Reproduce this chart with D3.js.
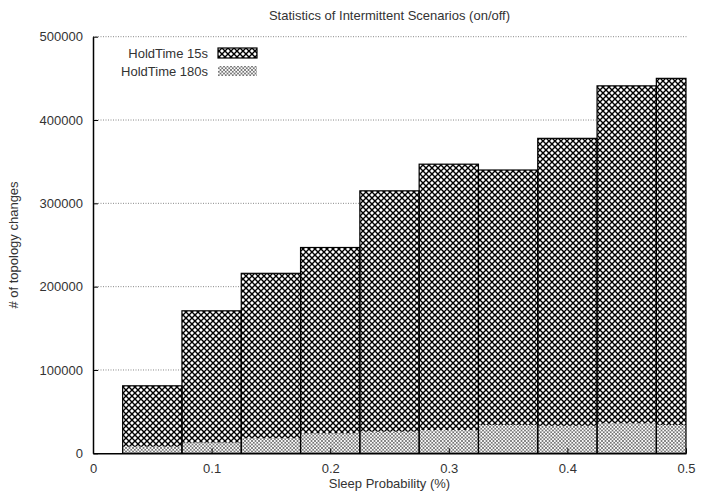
<!DOCTYPE html>
<html>
<head>
<meta charset="utf-8">
<script src="https://cdn.jsdelivr.net/npm/d3@7"></script>
<style>
  body { margin: 0; background: #fff; }
  text { font-family: "Liberation Sans", Arial, sans-serif; fill: #333; }
</style>
</head>
<body>
<div id="chart"></div>
<script>
(() => {
  // sleep probability of each bar (bar centres)
  const probs = [0.05, 0.1, 0.15, 0.2, 0.25, 0.3, 0.35, 0.4, 0.45, 0.5];
  const hold15 = [81000, 171000, 216000, 247000, 315000, 347000, 340000, 378000, 441000, 450000];
  const hold180 = [8000, 13000, 18000, 24000, 26000, 28000, 34000, 33000, 36000, 34000];
  const yTicks = [0, 100000, 200000, 300000, 400000, 500000];
  const xTicks = [0, 0.1, 0.2, 0.3, 0.4, 0.5];
  const seriesNames = ["HoldTime 15s", "HoldTime 180s"];

  const width = 701, height = 492;
  const left = 93, right = 686, top = 36.7, bottom = 453.3;
  const barW = 0.05;

  const svg = d3.select("#chart").append("svg")
    .attr("width", width)
    .attr("height", height);

  const defs = svg.append("defs");

  // coarse crosshatch for 15s
  const p1 = defs.append("pattern")
    .attr("id", "hatch15")
    .attr("patternUnits", "userSpaceOnUse")
    .attr("width", 6).attr("height", 6);
  p1.append("rect").attr("width", 6).attr("height", 6).attr("fill", "#fff");
  p1.append("path")
    .attr("d", "M-1,-1L7,7M7,-1L-1,7")
    .attr("stroke", "#000")
    .attr("stroke-width", 1.4);

  // fine crosshatch for 180s
  const p2 = defs.append("pattern")
    .attr("id", "hatch180")
    .attr("patternUnits", "userSpaceOnUse")
    .attr("width", 3.5).attr("height", 3.5);
  p2.append("rect").attr("width", 3.5).attr("height", 3.5).attr("fill", "#fff");
  p2.append("path")
    .attr("d", "M-1,-1L4.5,4.5M4.5,-1L-1,4.5")
    .attr("stroke", "#333")
    .attr("stroke-width", 0.6);

  const x = d3.scaleLinear().domain([0, 0.5]).range([left, right]);
  const y = d3.scaleLinear().domain([0, 500000]).range([bottom, top]);

  // grid
  svg.append("g")
    .selectAll("line")
    .data(yTicks.filter((d) => d > 0))
    .enter()
    .append("line")
    .attr("x1", left)
    .attr("x2", right + 1)
    .attr("y1", (d) => y(d))
    .attr("y2", (d) => y(d))
    .attr("stroke", "#888")
    .attr("stroke-width", 1)
    .attr("stroke-dasharray", "1,1.5");

  const x0 = (d) => x(Math.max(0, d - barW / 2));
  const x1 = (d) => x(Math.min(0.5, d + barW / 2));

  const data15 = probs.map((p, i) => ({ p, v: hold15[i] }));
  const data180 = probs.map((p, i) => ({ p, v: hold180[i] }));

  svg.append("g")
    .selectAll("rect")
    .data(data15)
    .enter()
    .append("rect")
    .attr("x", (d) => x0(d.p))
    .attr("width", (d) => x1(d.p) - x0(d.p))
    .attr("y", (d) => y(d.v))
    .attr("height", (d) => y(0) - y(d.v))
    .attr("fill", "url(#hatch15)");

  svg.append("g")
    .selectAll("rect")
    .data(data180)
    .enter()
    .append("rect")
    .attr("x", (d) => x0(d.p))
    .attr("width", (d) => x1(d.p) - x0(d.p))
    .attr("y", (d) => y(d.v))
    .attr("height", (d) => y(0) - y(d.v))
    .attr("fill", "url(#hatch180)");

  // outlines of the 15s bars on top
  svg.append("g")
    .selectAll("rect")
    .data(data15)
    .enter()
    .append("rect")
    .attr("x", (d) => x0(d.p))
    .attr("width", (d) => x1(d.p) - x0(d.p))
    .attr("y", (d) => y(d.v))
    .attr("height", (d) => y(0) - y(d.v))
    .attr("fill", "none")
    .attr("stroke", "#000")
    .attr("stroke-width", 1.2);

  // axes
  const yAxis = svg.append("g")
    .attr("transform", `translate(${left},0)`)
    .call(d3.axisLeft(y).tickValues(yTicks).tickFormat(d3.format("d"))
      .tickSizeInner(-5).tickSizeOuter(0).tickPadding(10));
  const xAxis = svg.append("g")
    .attr("transform", `translate(0,${bottom})`)
    .call(d3.axisBottom(x).tickValues(xTicks).tickFormat((d) => d === 0 ? "0" : d3.format(".1f")(d))
      .tickSizeInner(-5).tickSizeOuter(0).tickPadding(10));

  [yAxis, xAxis].forEach((a) => {
    a.select(".domain").attr("stroke", "#000").attr("stroke-width", 1.5);
    a.selectAll(".tick line").attr("stroke", "#000").attr("stroke-width", 1);
    a.selectAll("text")
      .style("font-family", '"Liberation Sans", Arial, sans-serif')
      .style("font-size", "13px")
      .attr("fill", "#333");
  });

  // titles
  svg.append("text")
    .attr("x", (left + right) / 2)
    .attr("y", 20)
    .attr("text-anchor", "middle")
    .style("font-size", "13px")
    .text("Statistics of Intermittent Scenarios (on/off)");

  svg.append("text")
    .attr("x", (left + right) / 2)
    .attr("y", 488)
    .attr("text-anchor", "middle")
    .style("font-size", "13px")
    .text("Sleep Probability (%)");

  svg.append("text")
    .attr("transform", `translate(17.5,${(top + bottom) / 2}) rotate(-90)`)
    .attr("text-anchor", "middle")
    .style("font-size", "13px")
    .text("# of topology changes");

  // legend
  const legend = svg.append("g");
  const fills = ["url(#hatch15)", "url(#hatch180)"];
  seriesNames.forEach((name, i) => {
    const ly = 53 + i * 18;
    legend.append("text")
      .attr("x", 208)
      .attr("y", ly)
      .attr("dy", "0.35em")
      .attr("text-anchor", "end")
      .style("font-size", "13px")
      .text(name);
    legend.append("rect")
      .attr("x", 218)
      .attr("y", ly - 5)
      .attr("width", 39)
      .attr("height", 10)
      .attr("fill", fills[i])
      .attr("stroke", i === 0 ? "#000" : "none")
      .attr("stroke-width", 1.2);
  });
})();
</script>
</body>
</html>
